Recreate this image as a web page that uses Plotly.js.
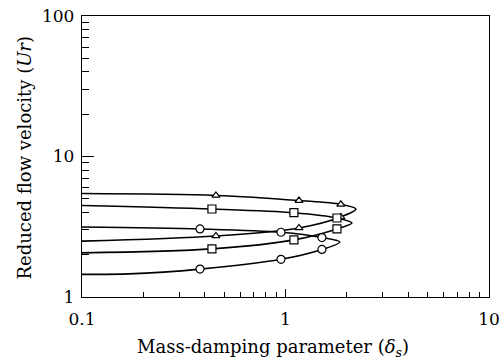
<!DOCTYPE html>
<html>
<head>
<meta charset="utf-8">
<script src="https://cdn.plot.ly/plotly-3.0.1.min.js"></script>
<style>html,body{margin:0;padding:0;background:#fff;}#chart{width:504px;height:360px;}</style>
</head>
<body>
<div id="chart"></div>
<script>
// Triangle series (upper branch -> tip -> lower branch)
const triX = [0.1, 0.455, 1.165, 1.87, 2.22, 1.87, 1.165, 0.455, 0.1];
const triY = [5.45, 5.28, 4.86, 4.57, 4.23, 3.71, 3.10, 2.72, 2.50];
const triMarked = [0, 1, 1, 1, 0, 1, 1, 1, 0];

// Square series
const sqX = [0.1, 0.435, 1.10, 1.79, 2.12, 1.79, 1.10, 0.435, 0.1];
const sqY = [4.48, 4.23, 3.98, 3.65, 3.36, 3.05, 2.55, 2.20, 2.06];
const sqMarked = [0, 1, 1, 1, 0, 1, 1, 1, 0];

// Circle series
const ciX = [0.1, 0.38, 0.95, 1.51, 1.85, 1.51, 0.95, 0.38, 0.17, 0.1];
const ciY = [3.15, 3.05, 2.89, 2.65, 2.46, 2.18, 1.855, 1.58, 1.46, 1.45];
const ciMarked = [0, 1, 1, 1, 0, 1, 1, 1, 0, 0];

const xTickVals = [0.1, 1, 10];
const xTickText = ['0.1', '1', '10'];
const yTickVals = [1, 10, 100];
const yTickText = ['1', '10', '100'];

const xTitle = 'Mass-damping parameter (<i>δ</i><sub><i>s</i></sub>)';
const yTitle = 'Reduced flow velocity (<i>Ur</i>)';

function minorVals(lo, hi) {
  const v = [];
  for (let d = lo; d < hi; d *= 10) for (let k = 2; k <= 9; k++) v.push(+(d * k).toPrecision(3));
  return v;
}

function series(x, y, marked, symbol, size) {
  return {
    x: x, y: y, type: 'scatter', mode: 'lines+markers',
    line: {color: '#000', width: 1.6, shape: 'spline', smoothing: 0.9},
    marker: {symbol: symbol, size: size, color: '#fff',
             opacity: marked.map(m => m ? 1 : 0),
             line: {color: '#000', width: 1.2}},
    hoverinfo: 'skip', showlegend: false
  };
}

const font = {family: '"DejaVu Serif", "Liberation Serif", serif', color: '#000'};

const data = [
  series(triX, triY, triMarked, 'triangle-up', 7),
  series(sqX, sqY, sqMarked, 'square', 8),
  series(ciX, ciY, ciMarked, 'circle', 8)
];

const layout = {
  width: 504, height: 360,
  margin: {l: 82, r: 15, t: 16, b: 63},
  paper_bgcolor: '#fff', plot_bgcolor: '#fff',
  font: Object.assign({size: 16}, font),
  xaxis: {
    type: 'log', range: [-1, 1],
    tickvals: xTickVals, ticktext: xTickText,
    ticks: 'inside', ticklen: 8, tickwidth: 1, tickcolor: '#000',
    ticklabelstandoff: 6,
    minor: {tickvals: minorVals(0.1, 10), ticks: 'inside', ticklen: 5, tickwidth: 1, tickcolor: '#000', showgrid: false},
    showline: true, linecolor: '#000', linewidth: 1.2, mirror: true,
    showgrid: false, zeroline: false,
    tickfont: Object.assign({size: 17}, font)
  },
  yaxis: {
    type: 'log', range: [0, 2],
    tickvals: yTickVals, ticktext: yTickText,
    ticks: 'inside', ticklen: 12, tickwidth: 1, tickcolor: '#000',
    ticklabelstandoff: 3,
    minor: {tickvals: minorVals(1, 100), ticks: 'inside', ticklen: 7, tickwidth: 1, tickcolor: '#000', showgrid: false},
    showline: true, linecolor: '#000', linewidth: 1.2, mirror: true,
    showgrid: false, zeroline: false,
    tickfont: Object.assign({size: 17}, font)
  },
  annotations: [
    {text: xTitle, xref: 'paper', yref: 'paper', x: 0.469, y: 0, xanchor: 'center', yanchor: 'middle',
     yshift: -51, showarrow: false, font: Object.assign({size: 18}, font)},
    {text: yTitle, xref: 'paper', yref: 'paper', x: 0, y: 0.493, xanchor: 'center', yanchor: 'middle',
     xshift: -58, textangle: -90, showarrow: false, font: Object.assign({size: 18}, font)}
  ]
};

Plotly.newPlot('chart', data, layout, {staticPlot: true, displayModeBar: false});
</script>
</body>
</html>
